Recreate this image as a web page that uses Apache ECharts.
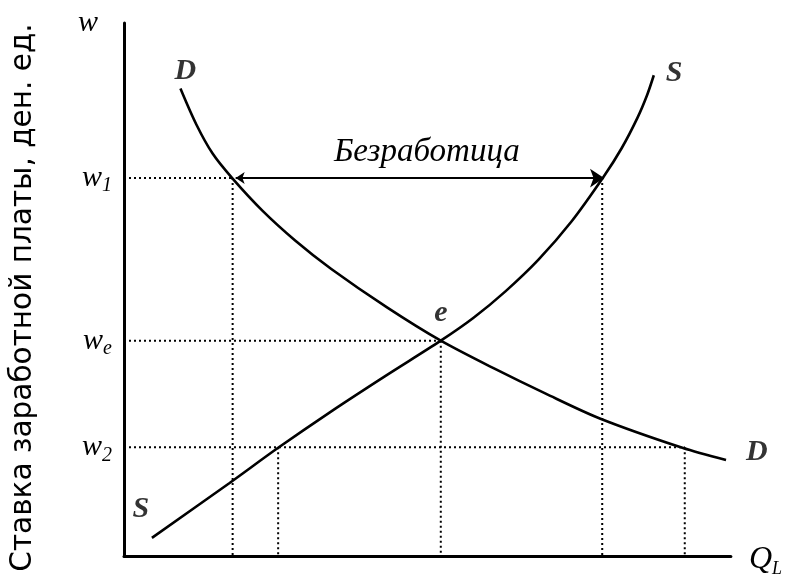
<!DOCTYPE html>
<html>
<head>
<meta charset="utf-8">
<script src="https://cdn.jsdelivr.net/npm/echarts@6/dist/echarts.min.js"></script>
<style>
html, body { margin: 0; background: #fff; }
#chart { width: 785px; height: 578px; }
</style>
</head>
<body>
<div id="chart"></div>
<script>
// wage levels on the y axis
const wLevels = { w2: 20.4, we: 40.4, w1: 70.9 };
// quantities where the guides drop to the x axis
const qLevels = { dAtW1: 17.9, sAtW2: 25.4, qe: 52.2, sAtW1: 78.8, dAtW2: 92.4 };

// demand curve D  [Q, w]
const demandPts = [
  [9.3, 87.7], [11.9, 81.0], [14.6, 75.5], [17.9, 70.8], [22.8, 64.8],
  [28.2, 59.2], [34.1, 53.9], [43.4, 46.6], [52.2, 40.4],
  [61.3, 35.0], [69.4, 30.5], [78.4, 25.8], [92.0, 20.3], [99.2, 18.0]
];
// supply curve S  [Q, w]
const supplyPts = [
  [4.6, 3.4], [17.4, 13.7], [25.4, 20.3], [34.1, 27.1], [43.1, 33.8],
  [52.2, 40.4], [57.6, 44.7], [62.9, 49.7], [68.3, 55.6], [73.7, 62.7],
  [79.0, 71.1], [82.0, 76.5], [84.6, 82.2], [86.2, 86.5], [87.3, 90.2]
];

const yTickText = { w2: 'w{sub|2}', we: 'w{sub|e}', w1: 'w{sub|1}' };

const serif = "'Liberation Serif', 'DejaVu Serif', serif";
const subRich = {
  sub: { fontFamily: serif, fontStyle: 'italic', fontSize: 20, padding: [16, 0, 0, 0], verticalAlign: 'bottom' }
};

function guide(a, b) {
  return {
    type: 'line', data: [a, b], symbol: 'none', silent: true, z: 1,
    lineStyle: { color: '#000', width: 2, type: [2, 3] }
  };
}

const guides = [
  guide([0, wLevels.w1], [qLevels.dAtW1, wLevels.w1]),
  guide([0, wLevels.we], [qLevels.qe, wLevels.we]),
  guide([0, wLevels.w2], [qLevels.dAtW2, wLevels.w2]),
  guide([qLevels.dAtW1, wLevels.w1], [qLevels.dAtW1, 0]),
  guide([qLevels.sAtW2, wLevels.w2], [qLevels.sAtW2, 0]),
  guide([qLevels.qe, wLevels.we], [qLevels.qe, 0]),
  guide([qLevels.sAtW1, wLevels.w1], [qLevels.sAtW1, 0]),
  guide([qLevels.dAtW2, wLevels.w2], [qLevels.dAtW2, 0])
];

const curveLabel = { fontFamily: serif, fontStyle: 'italic', fontWeight: 'bold', fontSize: 30, color: '#000' };

var dom = document.getElementById('chart');
var myChart = echarts.init(dom, null, { renderer: 'canvas' });
var option = {
  animation: false,
  backgroundColor: '#fff',
  grid: { left: 120, right: 50, top: 23, bottom: 22 },
  xAxis: {
    type: 'value', min: 0, max: 100,
    name: 'Q{sub|L}', nameLocation: 'end', nameGap: 18,
    nameTextStyle: {
      fontFamily: serif, fontStyle: 'italic', fontSize: 32, color: '#000',
      verticalAlign: 'middle', padding: [8, 0, 0, 0],
      rich: { sub: { fontFamily: serif, fontStyle: 'italic', fontSize: 18, padding: [18, 0, 0, 0], verticalAlign: 'bottom' } }
    },
    axisLine: { lineStyle: { color: '#000', width: 3 } },
    axisTick: { show: false }, axisLabel: { show: false }, splitLine: { show: false }
  },
  yAxis: [{
    type: 'value', min: 0, max: 100,
    name: 'Ставка заработной платы, ден. ед.', nameLocation: 'middle', nameGap: 86, nameRotate: 90,
    nameTextStyle: { fontFamily: "'DejaVu Sans', 'Liberation Sans', sans-serif", fontSize: 29.5, color: '#000', padding: [0, 16, 0, 0] },
    axisLine: { show: true, lineStyle: { color: '#000', width: 3 } },
    axisTick: { show: false }, splitLine: { show: false },
    axisLabel: {
      show: true, margin: 12, customValues: [wLevels.w2, wLevels.we, wLevels.w1],
      formatter: function (v) {
        if (v === wLevels.w2) return yTickText.w2;
        if (v === wLevels.we) return yTickText.we;
        return yTickText.w1;
      },
      fontFamily: serif, fontStyle: 'italic', fontSize: 30, color: '#000',
      rich: subRich
    }
  }, {
    type: 'value', min: 0, max: 100, position: 'left',
    name: 'w', nameLocation: 'end', nameGap: 0,
    nameTextStyle: { fontFamily: serif, fontStyle: 'italic', fontSize: 30, color: '#000', align: 'right', verticalAlign: 'middle', padding: [0, 26, 0, 0] },
    axisLine: { show: false }, axisTick: { show: false }, axisLabel: { show: false }, splitLine: { show: false }
  }],
  series: guides.concat([
    {
      type: 'line', data: demandPts, smooth: 0.3, symbol: 'none', z: 3,
      lineStyle: { color: '#000', width: 2.6 }
    },
    {
      type: 'line', data: supplyPts, smooth: 0.3, symbol: 'none', z: 3,
      lineStyle: { color: '#000', width: 2.6 }
    },
    {
      type: 'lines', coordinateSystem: 'cartesian2d', z: 4,
      symbol: ['arrow', 'arrow'], symbolSize: [9, 14],
      lineStyle: { color: '#000', width: 2, curveness: 0, opacity: 1 },
      label: {
        show: true, position: 'insideMiddleTop', distance: 9, formatter: 'Безработица',
        fontFamily: serif, fontStyle: 'italic', fontSize: 33, color: '#000', padding: [0, 0, 0, 14]
      },
      data: [{ coords: [[qLevels.dAtW1 + 0.5, wLevels.w1], [qLevels.sAtW1 + 0.3, wLevels.w1]] }]
    },
    {
      type: 'scatter', symbolSize: 0, z: 5, silent: true,
      data: [
        { value: demandPts[0], label: { show: true, formatter: 'D', position: 'top', distance: 2, offset: [5, 0], ...curveLabel } },
        { value: demandPts[demandPts.length - 1], label: { show: true, formatter: 'D', position: 'right', distance: 12, offset: [8, -8], ...curveLabel } },
        { value: supplyPts[0], label: { show: true, formatter: 'S', position: 'top', distance: 14, offset: [-11, 0], ...curveLabel } },
        { value: supplyPts[supplyPts.length - 1], label: { show: true, formatter: 'S', position: 'right', distance: 2, offset: [10, -2], ...curveLabel } },
        { value: [qLevels.qe, wLevels.we], label: { show: true, formatter: 'e', position: 'top', distance: 6, offset: [0, -6], ...curveLabel } }
      ]
    }
  ])
};
myChart.setOption(option);
window.addEventListener('resize', myChart.resize);
</script>
</body>
</html>
